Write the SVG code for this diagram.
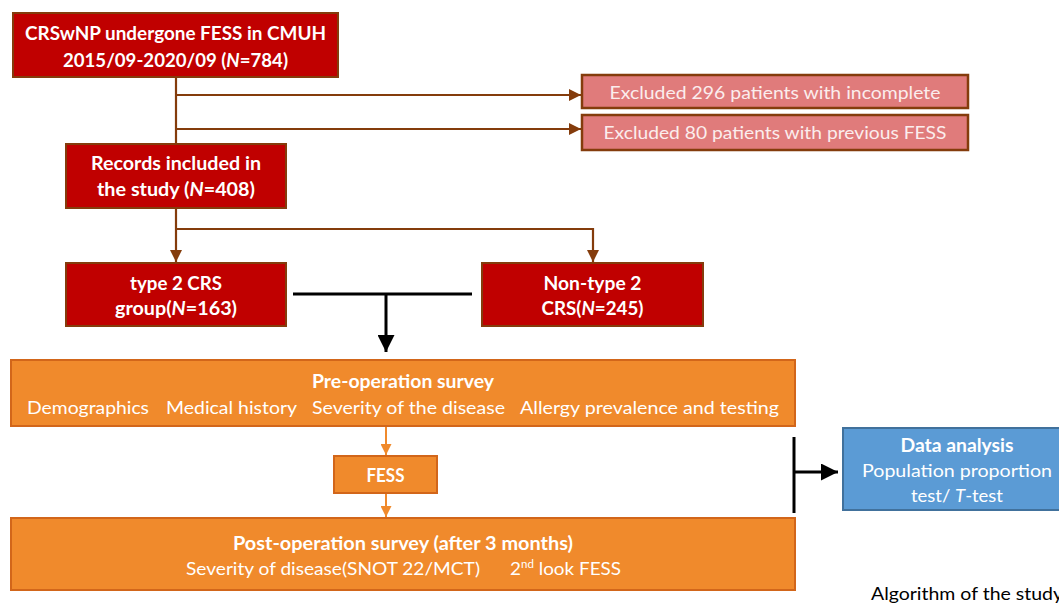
<svg xmlns="http://www.w3.org/2000/svg" width="1059" height="604" viewBox="0 0 1059 604">
<style>
.red{fill:#C00000;stroke:#843C0C;stroke-width:2}
.pink{fill:#E07B7B;stroke:#843C0C;stroke-width:2.5}
.orange{fill:#F08A2C;stroke:#D2661A;stroke-width:2}
.blue{fill:#5B9BD5;stroke:#41719C;stroke-width:2}
.t{font-family:Lato,"Open Sans",sans-serif;font-size:18px;fill:#ffffff}
.m{text-anchor:middle}
.b{font-weight:bold}
.lt{fill:#FBEDED}
.brown{stroke:#843C0C;stroke-width:2.2;fill:none}
.blk{stroke:#000000;stroke-width:3;fill:none}
.org{stroke:#F08A2C;stroke-width:2;fill:none}
</style>
<defs>
<marker id="ab" viewBox="0 0 10 10" refX="10" refY="5" markerUnits="userSpaceOnUse" markerWidth="16" markerHeight="12" orient="auto"><path d="M0,0 L10,5 L0,10 z" fill="#843C0C"/></marker>
<marker id="ak" viewBox="0 0 10 10" refX="10" refY="5" markerUnits="userSpaceOnUse" markerWidth="22" markerHeight="17" orient="auto"><path d="M0,0 L10,5 L0,10 z" fill="#000000"/></marker>
<marker id="ao" viewBox="0 0 10 10" refX="10" refY="5" markerUnits="userSpaceOnUse" markerWidth="13" markerHeight="11" orient="auto"><path d="M0,0 L10,5 L0,10 z" fill="#F08A2C"/></marker>
</defs>

<g id="connectors">
<path class="brown" d="M176,77 V144"/>
<path class="brown" d="M176,95 H581" marker-end="url(#ab)"/>
<path class="brown" d="M176,129 H581" marker-end="url(#ab)"/>
<path class="brown" d="M176,208 V262" marker-end="url(#ab)"/>
<path class="brown" d="M176,229 H593 V262" marker-end="url(#ab)"/>
<path class="blk" d="M293,294 H472"/>
<path class="blk" d="M386,294 V352" marker-end="url(#ak)"/>
<path class="org" d="M386,426 V455" marker-end="url(#ao)"/>
<path class="org" d="M386,493 V517" marker-end="url(#ao)"/>
<path class="blk" d="M794,437 V513"/>
<path class="blk" d="M794,472 H838" marker-end="url(#ak)"/>
</g>

<g id="n_start">
<rect class="red" x="13" y="13" width="325" height="64"/>
<text class="t m b" x="175.5" y="40" textLength="301" lengthAdjust="spacingAndGlyphs">CRSwNP undergone FESS in CMUH</text>
<text class="t m b" x="175.5" y="67" textLength="225" lengthAdjust="spacingAndGlyphs">2015/09-2020/09 (<tspan font-style="italic">N</tspan>=784)</text>
</g>

<g id="n_excl1">
<rect class="pink" x="582" y="75" width="386" height="33"/>
<text class="t m lt" x="775" y="99" textLength="331" lengthAdjust="spacingAndGlyphs">Excluded 296 patients with incomplete</text>
</g>

<g id="n_excl2">
<rect class="pink" x="582" y="115" width="386" height="35"/>
<text class="t m lt" x="775" y="139" textLength="343" lengthAdjust="spacingAndGlyphs">Excluded 80 patients with previous FESS</text>
</g>

<g id="n_records">
<rect class="red" x="66" y="144" width="220" height="64"/>
<text class="t m b" x="176" y="170" textLength="170" lengthAdjust="spacingAndGlyphs">Records included in</text>
<text class="t m b" x="176" y="196" textLength="158" lengthAdjust="spacingAndGlyphs">the study (<tspan font-style="italic">N</tspan>=408)</text>
</g>

<g id="n_type2">
<rect class="red" x="66" y="263" width="220" height="63"/>
<text class="t m b" x="176" y="290" textLength="92" lengthAdjust="spacingAndGlyphs">type 2 CRS</text>
<text class="t m b" x="176" y="315" textLength="122" lengthAdjust="spacingAndGlyphs">group(<tspan font-style="italic">N</tspan>=163)</text>
</g>

<g id="n_nontype2">
<rect class="red" x="482" y="263" width="221" height="63"/>
<text class="t m b" x="592.5" y="290" textLength="98" lengthAdjust="spacingAndGlyphs">Non-type 2</text>
<text class="t m b" x="592.5" y="315" textLength="102" lengthAdjust="spacingAndGlyphs">CRS(<tspan font-style="italic">N</tspan>=245)</text>
</g>

<g id="n_preop">
<rect class="orange" x="11" y="360" width="784" height="66"/>
<text class="t m b" x="403" y="388" textLength="182" lengthAdjust="spacingAndGlyphs">Pre-operation survey</text>
<text class="t" x="27" y="414" textLength="122" lengthAdjust="spacingAndGlyphs">Demographics</text>
<text class="t" x="166" y="414" textLength="131" lengthAdjust="spacingAndGlyphs">Medical history</text>
<text class="t" x="312" y="414" textLength="193" lengthAdjust="spacingAndGlyphs">Severity of the disease</text>
<text class="t" x="520" y="414" textLength="259" lengthAdjust="spacingAndGlyphs">Allergy prevalence and testing</text>
</g>

<g id="n_fess">
<rect class="orange" x="334" y="456" width="103" height="37"/>
<text class="t m b" x="385.5" y="482" textLength="38" lengthAdjust="spacingAndGlyphs">FESS</text>
</g>

<g id="n_postop">
<rect class="orange" x="11" y="518" width="784" height="72"/>
<text class="t m b" x="403" y="550" textLength="340" lengthAdjust="spacingAndGlyphs">Post-operation survey (after 3 months)</text>
<text class="t" x="186" y="575" textLength="294" lengthAdjust="spacingAndGlyphs">Severity of disease(SNOT 22/MCT)</text>
<text class="t" x="510" y="575" textLength="111" lengthAdjust="spacingAndGlyphs">2<tspan font-size="11" dy="-7">nd</tspan><tspan dy="7"> look FESS</tspan></text>
</g>

<g id="n_analysis">
<rect class="blue" x="843" y="428" width="230" height="82"/>
<text class="t m b" x="957" y="452" textLength="113" lengthAdjust="spacingAndGlyphs">Data analysis</text>
<text class="t m" x="957" y="477" textLength="190" lengthAdjust="spacingAndGlyphs">Population proportion</text>
<text class="t m" x="957" y="502" textLength="92" lengthAdjust="spacingAndGlyphs">test/ <tspan font-style="italic">T</tspan>-test</text>
</g>

<g id="caption">
<text x="871" y="600" textLength="192" lengthAdjust="spacingAndGlyphs" style="font-family:Lato,'Open Sans',sans-serif;font-size:18px;fill:#000000">Algorithm of the study</text>
</g>
</svg>
